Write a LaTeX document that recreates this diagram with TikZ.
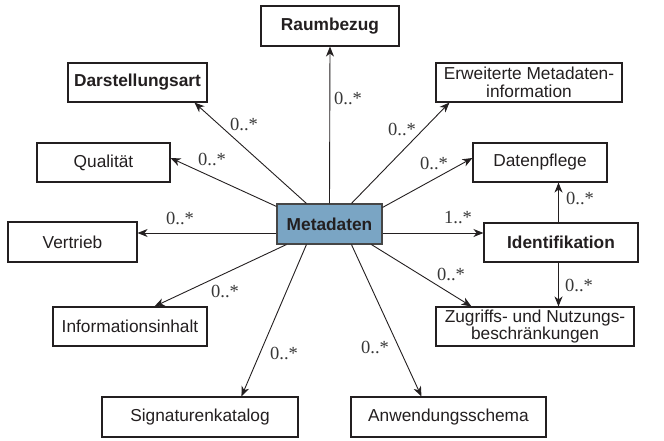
\documentclass[tikz,border=0pt]{standalone}
\usepackage{fontspec}
\setmainfont{Liberation Sans}
\newfontfamily\labelfont{Liberation Serif}
\usetikzlibrary{arrows.meta,calc}
\definecolor{txt}{RGB}{35,31,32}
\definecolor{lbl}{RGB}{55,55,55}
\definecolor{metafill}{RGB}{122,165,196}
\definecolor{metaedge}{RGB}{70,70,70}
\begin{document}
\begin{tikzpicture}[x=1pt,y=-1pt,
  box/.style={draw=txt, line width=1.1pt, fill=white, minimum height=39pt, inner sep=0pt,
    font=\fontsize{17.3}{17.5}\selectfont, align=center, text=txt},
  bbox/.style={box, font=\fontsize{17.3}{17.5}\selectfont\bfseries},
  conn/.style={draw=txt, line width=0.9pt, -{Stealth[length=10pt,width=8pt,inset=3pt]}},
  lab/.style={font=\labelfont\fontsize{18.5}{18.5}\selectfont, text=lbl, inner sep=0pt}]
\useasboundingbox (0,0) rectangle (664,441);

\node[bbox, minimum width=138pt, minimum height=40pt] (raum) at (330,26) {Raumbezug};
\node[bbox, minimum width=139pt] (dar) at (137.5,82.5) {Darstellungsart};
\node[box, minimum width=186pt] (erw) at (529,82.5) {Erweiterte Metadaten-\\information};
\node[box, minimum width=133pt] (qual) at (103.5,162.5) {Qualität};
\node[box, minimum width=134pt] (dat) at (540,162.5) {Datenpflege};
\node[box, minimum width=129pt, minimum height=40pt] (vert) at (72.5,242) {Vertrieb};
\node[bbox, minimum width=105pt, minimum height=40pt, fill=metafill, draw=metaedge] (meta) at (329.5,224) {Metadaten};
\node[bbox, minimum width=154pt] (ident) at (561,242.5) {Identifikation};
\node[box, minimum width=154pt] (info) at (130,326.5) {Informationsinhalt};
\node[box, minimum width=198pt] (zug) at (535,326.5) {Zugriffs- und Nutzungs-\\beschränkungen};
\node[box, minimum width=196pt, minimum height=40pt] (sig) at (200,417) {Signaturenkatalog};
\node[box, minimum width=195pt, minimum height=40pt] (anw) at (448.5,417) {Anwendungsschema};

\draw[conn] (meta.north) -- (raum.south);
\draw[conn] ($(meta.north west)+(30,0)$) -- ($(dar.south west)+(127,0)$);
\draw[conn] ($(meta.north west)+(0,3)$) -- ($(qual.east)+(0,-4.5)$);
\draw[conn] ($(meta.west)+(0,9)$) -- ($(vert.east)+(0,-9)$);
\draw[conn] ($(meta.south west)+(10,0)$) -- ($(info.north west)+(102,0)$);
\draw[conn] ($(meta.south west)+(30,0)$) -- ($(sig.north west)+(140,0)$);
\draw[conn] ($(meta.south west)+(75,0)$) -- ($(anw.north west)+(71,0)$);
\draw[conn] ($(meta.south west)+(95,0)$) -- ($(zug.north west)+(36,0)$);
\draw[conn] ($(meta.east)+(0,9)$) -- ($(ident.west)+(0,-9.5)$);
\draw[conn] ($(meta.north east)+(0,4)$) -- ($(dat.west)+(0,-4.5)$);
\draw[conn] ($(meta.north west)+(75,0)$) -- ($(erw.south west)+(14,0)$);
\coordinate (iu) at ($(ident.north)+(-2.5,0)$);
\coordinate (il) at ($(ident.south)+(-2.5,0)$);
\draw[conn] (iu) -- (iu |- dat.south);
\draw[conn] (il) -- (il |- zug.north);

\node[lab] (l1) at (348,98) {0..*};
\node[lab] (l2) at (244,124) {0..*};
\node[lab] (l3) at (212,159) {0..*};
\node[lab] (l4) at (180,218) {0..*};
\node[lab] (l5) at (225,291) {0..*};
\node[lab] (l6) at (284,353) {0..*};
\node[lab] (l7) at (375,347) {0..*};
\node[lab] (l8) at (451,274) {0..*};
\node[lab] (l9) at (579,285) {0..*};
\node[lab] (l10) at (458,218) {1..*};
\node[lab] (l11) at (580,198) {0..*};
\node[lab] (l12) at (434,163) {0..*};
\node[lab] (l13) at (402,129) {0..*};
\end{tikzpicture}
\end{document}
